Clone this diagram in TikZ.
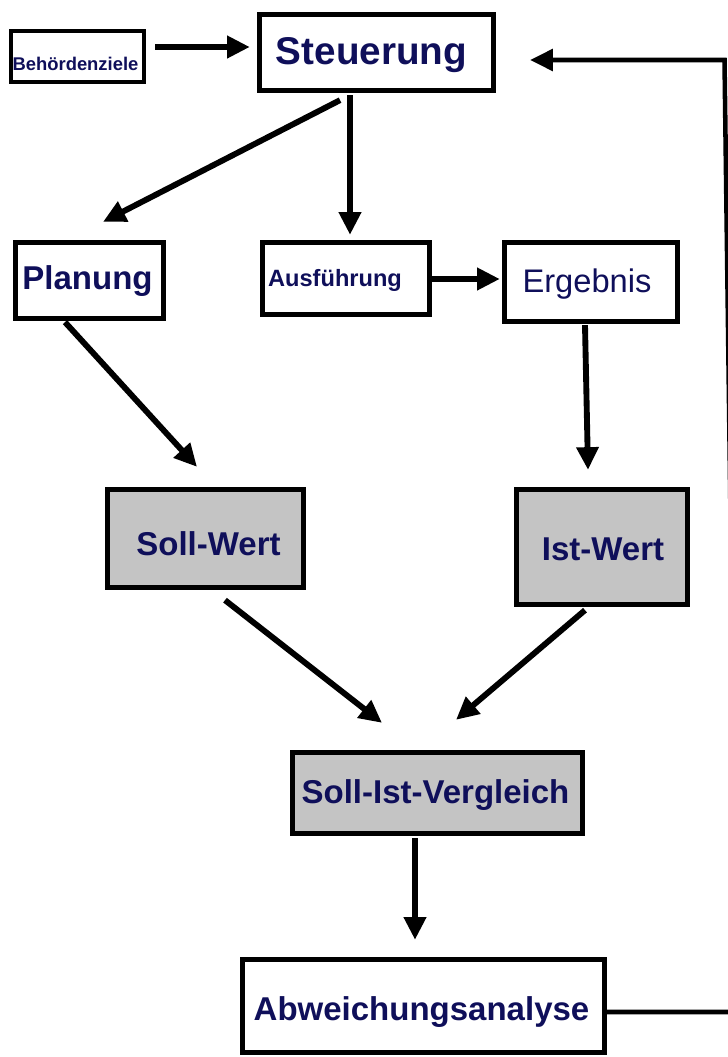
\documentclass[tikz,border=0pt]{standalone}
\usepackage{fontspec}
\setmainfont{Liberation Sans}
\usetikzlibrary{arrows.meta}
\definecolor{txtblue}{RGB}{15,15,90}
\definecolor{boxgray}{RGB}{196,196,196}
\tikzset{
  boxwh/.style 2 args={draw=black, line width=4pt, minimum width=#1*0.75pt, minimum height=#2*0.75pt, inner sep=0pt},
  graybox/.style={fill=boxgray},
  txt/.style={text=txtblue, inner sep=0pt, font=\bfseries\fontsize{24.75pt}{28pt}\selectfont},
  arr/.style={line width=4.4pt, -{Triangle[length=17pt,width=16pt]}}
}
\begin{document}
\begin{tikzpicture}[x=0.75pt,y=-0.75pt]
\useasboundingbox (0,0) rectangle (728,1057);
% boxes
\node[boxwh={133}{51}, line width=3.4pt] (beh) at (77.5,56.5) {};
\node[boxwh={234}{76}] (steu) at (376.5,52.5) {};
\node[boxwh={148}{76}] (plan) at (89.5,280.5) {};
\node[boxwh={167}{72}] (ausf) at (346,278.5) {};
\node[boxwh={173}{79}] (erg) at (591,282) {};
\node[boxwh={196}{98}, graybox] (soll) at (205.5,538.5) {};
\node[boxwh={171}{115}, graybox] (ist) at (602,547) {};
\node[boxwh={290}{81}, graybox] (vgl) at (437.5,793) {};
\node[boxwh={362}{93}] (abw) at (423.5,1006) {};
% texts
\node[txt, font=\bfseries\fontsize{13.8pt}{16pt}\selectfont] (tbeh) at ([shift={(-2,7)}]beh.center) {Behördenziele};
\node[txt, font=\bfseries\fontsize{29pt}{32pt}\selectfont] (tsteu) at ([shift={(-5,3)}]steu.center) {Steuerung};
\node[txt] (tplan) at ([shift={(-2,1)}]plan.center) {Planung};
\node[txt, font=\bfseries\fontsize{17.7pt}{20pt}\selectfont] (tausf) at ([shift={(-11,1.5)}]ausf.center) {Ausführung};
\node[txt, font=\fontsize{24.5pt}{28pt}\selectfont] (terg) at ([shift={(-4,2)}]erg.center) {Ergebnis};
\node[txt] (tsoll) at ([shift={(3,5)}]soll.center) {Soll-Wert};
\node[txt] (tist) at ([shift={(1,2)}]ist.center) {Ist-Wert};
\node[txt] (tvgl) at ([shift={(-2,2)}]vgl.center) {Soll-Ist-Vergleich};
\node[txt] (tabw) at ([shift={(-2,6)}]abw.center) {Abweichungsanalyse};
% connectors
\draw[arr] ([shift={(9,-9.5)}]beh.east) -- ([shift={(-7,-5.5)}]steu.west);
\draw[arr] ([shift={(-36.5,7)}]steu.south) -- ([shift={(13.5,-18)}]plan.north);
\draw[arr] ([shift={(-26.5,2)}]steu.south) -- ([shift={(4,-5)}]ausf.north);
\draw[arr] ([shift={(0,0.5)}]ausf.east) -- ([shift={(-2,-3)}]erg.west);
\draw[arr] ([shift={(-24.5,1)}]plan.south) -- ([shift={(-8.5,-20)}]soll.north);
\draw[arr] ([shift={(-6,1)}]erg.south) -- ([shift={(-14,-17)}]ist.north);
\draw[arr] ([shift={(19.5,10)}]soll.south) -- ([shift={(-55.5,-27)}]vgl.north);
\draw[arr] ([shift={(-17,3)}]ist.south) -- ([shift={(18.5,-30)}]vgl.north);
\draw[arr] ([shift={(-22.5,2)}]vgl.south) -- ([shift={(-8.5,-17)}]abw.north);
\coordinate (r1) at (737,1012);
\coordinate (r2) at (724.5,60);
\draw[arr, line width=3.4pt, line join=miter] ([shift={(0,6)}]abw.east) -- (r1) -- (r2) -- ([shift={(34,7.5)}]steu.east);
\end{tikzpicture}
\end{document}
